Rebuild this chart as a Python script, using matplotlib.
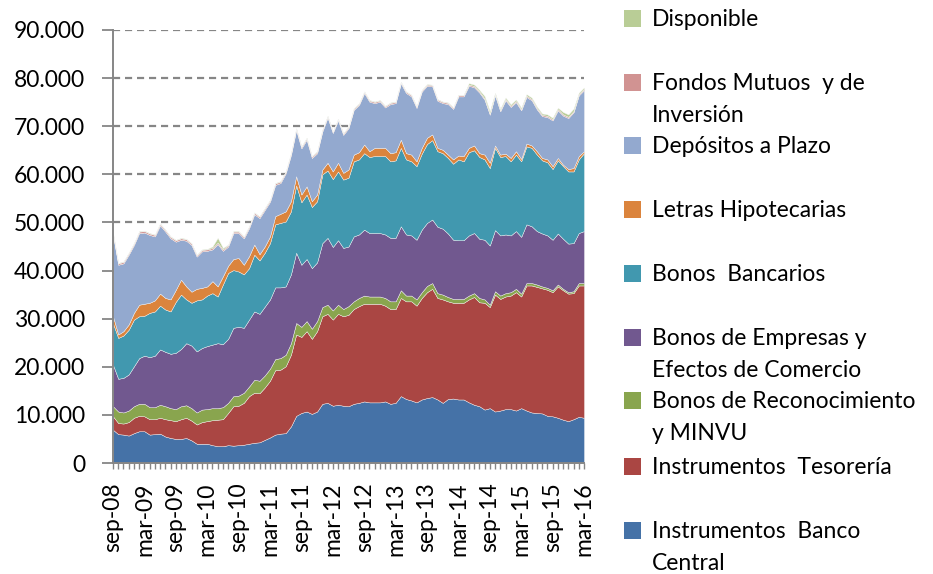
import numpy as np
import matplotlib
matplotlib.use("Agg")
import matplotlib.pyplot as plt
from matplotlib.patches import Rectangle
from matplotlib.ticker import FuncFormatter, MultipleLocator

plt.rcParams["font.family"] = ["Lato", "DejaVu Sans"]

# meses sep-08 .. mar-16 (91 puntos)
tick_labels = ["sep-08", "mar-09", "sep-09", "mar-10", "sep-10", "mar-11", "sep-11", "mar-12",
               "sep-12", "mar-13", "sep-13", "mar-14", "sep-14", "mar-15", "sep-15", "mar-16"]

banco_central = [
    6900, 6000, 5900, 5700, 6200, 6600, 6600, 5900, 6000, 6100,
    5500, 5200, 5000, 5000, 5200, 4700, 4000, 4000, 4000, 3700,
    3500, 3500, 3700, 3600, 3700, 3800, 4000, 4200, 4300, 4800,
    5300, 5900, 6100, 6200, 7600, 9800, 10400, 10700, 10200, 10700,
    12300, 12500, 11900, 12100, 11900, 11800, 12300, 12500, 12800, 12600,
    12600, 12600, 12800, 12300, 12500, 13900, 13300, 13000, 12600, 13200,
    13500, 13700, 13200, 12500, 13300, 13400, 13200, 13200, 12600, 12100,
    11800, 11100, 11400, 10700, 10900, 11200, 11200, 10900, 11400, 10900,
    10500, 10400, 10300, 9800, 9700, 9400, 9000, 8700, 9100, 9600,
    9400]
tesoreria = [
    2800, 2300, 2300, 2800, 3200, 3200, 3100, 3200, 3100, 3300,
    3600, 3700, 3700, 4100, 4200, 4100, 4000, 4500, 4700, 5200,
    5500, 5600, 6700, 8200, 8200, 8700, 9900, 10400, 10200, 10900,
    11800, 13400, 13300, 13900, 14900, 16900, 15800, 16700, 15600, 16700,
    18200, 18500, 17900, 18900, 18600, 19000, 19700, 20100, 20300, 20500,
    20500, 20500, 19900, 19700, 19500, 20400, 20300, 20600, 20100, 21100,
    22000, 22500, 21100, 21500, 20300, 19900, 20100, 20100, 21400, 22400,
    21600, 22200, 21000, 24300, 23200, 23400, 23600, 24600, 23200, 26000,
    26400, 26200, 26000, 26200, 25800, 27300, 26900, 26500, 26200, 27300,
    27500]
reconocimiento = [
    2100, 2400, 2300, 2400, 2400, 2500, 2600, 2500, 2500, 2700,
    2700, 2500, 2500, 2700, 2600, 2600, 2500, 2600, 2500, 2500,
    2400, 2500, 2100, 2100, 2100, 2100, 2000, 2700, 2600, 2500,
    2500, 2300, 2400, 2400, 2400, 2400, 2100, 2100, 2100, 2100,
    1900, 1900, 1900, 1900, 1500, 1800, 1600, 1700, 1700, 1500,
    1500, 1500, 1600, 1600, 1600, 1600, 1200, 1200, 1300, 1200,
    1300, 1200, 1000, 1000, 900, 800, 800, 800, 800, 800,
    900, 700, 500, 700, 700, 700, 700, 700, 600, 500,
    500, 500, 400, 400, 400, 400, 300, 300, 400, 500,
    500]
empresas = [
    8600, 6800, 7200, 7500, 8300, 9500, 10000, 10400, 10700, 11500,
    11300, 11300, 11700, 11900, 12900, 13000, 12700, 12800, 13100, 13200,
    13500, 13100, 13300, 14200, 14300, 13500, 13900, 14200, 13900, 14300,
    14400, 14900, 14700, 14200, 14300, 14600, 12900, 12900, 12600, 12200,
    13300, 13900, 13200, 13400, 12700, 12400, 13500, 13200, 13700, 13200,
    13200, 13200, 13200, 13200, 13200, 13300, 12700, 12500, 12400, 13000,
    13100, 13200, 13800, 13700, 13200, 12300, 12200, 12200, 12500, 12500,
    12300, 12400, 12300, 12700, 12500, 12200, 11800, 12000, 11800, 12200,
    11800, 11100, 11000, 10900, 10500, 10600, 10400, 10100, 10000, 10400,
    10800]
bancarios = [
    8600, 8500, 8800, 9300, 9700, 8700, 8300, 9200, 9200, 9100,
    8800, 8800, 10600, 11300, 9100, 8900, 10600, 10100, 10500, 10700,
    9700, 12400, 13700, 12000, 11500, 11100, 10700, 11800, 11100, 11200,
    11700, 13100, 13400, 13500, 13100, 14000, 13000, 13400, 12700, 12700,
    14300, 14000, 14100, 14300, 14200, 14300, 15600, 15600, 15900, 15800,
    16000, 16000, 16300, 15900, 16100, 16300, 15600, 15400, 15300, 15800,
    16400, 16500, 15700, 15700, 15700, 15800, 16800, 16400, 17300, 17200,
    17000, 16700, 16100, 17100, 16300, 16300, 15400, 15900, 15700, 16200,
    16300, 15900, 15200, 15200, 14700, 15200, 15100, 15000, 14900, 15300,
    16200]
letras = [
    1500, 700, 900, 1100, 1400, 2400, 2500, 2100, 2300, 2500,
    2400, 2500, 2500, 3100, 2700, 2300, 2400, 2400, 1900, 2500,
    2100, 1700, 1500, 2300, 2800, 2000, 2500, 2100, 1300, 1300,
    1400, 1700, 1900, 2100, 2100, 1900, 1600, 1700, 1200, 1400,
    1000, 1600, 1600, 1800, 1400, 1700, 1400, 1500, 1800, 1200,
    1700, 1700, 1700, 1700, 1700, 1700, 1300, 1400, 1000, 1200,
    1300, 1200, 700, 700, 700, 900, 800, 1100, 900, 1000,
    800, 1000, 1100, 500, 500, 500, 700, 700, 500, 600,
    500, 700, 500, 600, 600, 500, 300, 500, 700, 700,
    400]
depositos = [
    16900, 14500, 14100, 14500, 14100, 14900, 14800, 14100, 13300, 14200,
    13800, 12700, 10000, 8300, 9500, 9700, 6700, 7600, 7400, 6600,
    8800, 5300, 4000, 5400, 5200, 5500, 5800, 6300, 7500, 7600,
    7200, 6500, 6400, 7900, 9600, 9600, 9600, 9700, 9000, 8600,
    7900, 9400, 8000, 8800, 7900, 8600, 9300, 9800, 10700, 10300,
    9300, 9600, 8400, 10200, 10200, 11700, 12500, 12100, 11100, 11700,
    10800, 10000, 9800, 9700, 10500, 10500, 12300, 12400, 12900, 12100,
    12600, 11400, 10000, 10400, 9000, 11100, 10600, 10200, 10100, 9700,
    9400, 8700, 8700, 8800, 9500, 9900, 10200, 10600, 11600, 12600,
    12700]
fondos = [
    300, 300, 300, 300, 300, 300, 300, 300, 300, 300,
    300, 300, 300, 300, 300, 300, 300, 300, 300, 300,
    300, 300, 300, 300, 300, 300, 300, 300, 300, 300,
    300, 300, 300, 300, 300, 300, 300, 300, 300, 300,
    300, 250, 250, 250, 250, 250, 250, 250, 250, 250,
    250, 250, 250, 250, 250, 250, 250, 250, 250, 250,
    250, 250, 250, 250, 250, 250, 250, 250, 250, 250,
    250, 250, 250, 250, 250, 250, 250, 250, 250, 250,
    250, 250, 250, 250, 250, 250, 250, 250, 250, 250,
    250]
disponible = [
    100, 100, 100, 100, 100, 100, 100, 100, 100, 100,
    100, 100, 100, 100, 100, 100, 100, 100, 100, 300,
    1000, 300, 100, 100, 100, 100, 100, 100, 100, 100,
    100, 100, 100, 100, 100, 100, 100, 100, 100, 100,
    100, 100, 100, 100, 100, 100, 100, 100, 100, 100,
    100, 100, 100, 100, 100, 100, 100, 100, 100, 100,
    100, 100, 100, 100, 100, 100, 100, 100, 300, 300,
    300, 500, 500, 300, 300, 300, 300, 300, 300, 300,
    300, 300, 300, 300, 300, 300, 500, 500, 500, 300,
    300]

series = [banco_central, tesoreria, reconocimiento, empresas, bancarios,
          letras, depositos, fondos, disponible]
colors = ["#4572A7", "#AA4643", "#89A54E", "#71588F", "#4198AF",
          "#DB843D", "#93A9CF", "#D19392", "#B9CD96"]
# leyenda de arriba hacia abajo (orden inverso al apilado)
legend_lines = [
    ["Disponible"],
    ["Fondos Mutuos  y de", "Inversión"],
    ["Depósitos a Plazo"],
    ["Letras Hipotecarias"],
    ["Bonos  Bancarios"],
    ["Bonos de Empresas y", "Efectos de Comercio"],
    ["Bonos de Reconocimiento", "y MINVU"],
    ["Instrumentos  Tesorería"],
    ["Instrumentos  Banco", "Central"],
]
legend_colors = colors[::-1]

W, H = 933, 574
fig = plt.figure(figsize=(W / 100, H / 100), dpi=100)
ax = fig.add_axes([113 / W, 1 - 463 / H, (584 - 113) / W, (463 - 30) / H])

x = np.arange(len(banco_central))
ax.stackplot(x, *series, colors=colors, edgecolor="#f4f4f4", linewidth=0.3)

ax.set_xlim(0, len(x) - 1)
ax.set_ylim(0, 90000)
ax.set_yticks(np.arange(0, 90001, 10000))
ax.yaxis.set_major_formatter(FuncFormatter(lambda v, p: f"{v:,.0f}".replace(",", ".")))
ax.set_axisbelow(True)
ax.yaxis.grid(True, color="#868686", linestyle=(0, (3.2, 2.2)), linewidth=1.6)

ax.set_xticks(np.arange(0, len(x), 6))
ax.set_xticklabels(tick_labels, rotation=90)
ax.xaxis.set_minor_locator(MultipleLocator(1))

for s in ["top", "right"]:
    ax.spines[s].set_visible(False)
for s in ["left", "bottom"]:
    ax.spines[s].set_color("#868686")
    ax.spines[s].set_linewidth(1.4)

ax.tick_params(axis="y", length=8, width=1.3, color="#868686", pad=12, labelsize=16.5)
ax.tick_params(axis="x", which="both", length=4, width=1.0, color="#868686",
               pad=10, labelsize=16.5)

# leyenda manual a la derecha
baselines = [26, 90, 153, 217, 281, 345, 408, 474, 538]
for lines, c, b in zip(legend_lines, legend_colors, baselines):
    fig.add_artist(Rectangle((624 / W, 1 - (b + 0.5) / H), 17 / W, 17 / H,
                             transform=fig.transFigure, facecolor=c, edgecolor="none"))
    for k, t in enumerate(lines):
        fig.text(652 / W, 1 - (b + 32 * k) / H, t, fontsize=16.5, va="baseline", ha="left")

fig.savefig("out.png", dpi=100)
